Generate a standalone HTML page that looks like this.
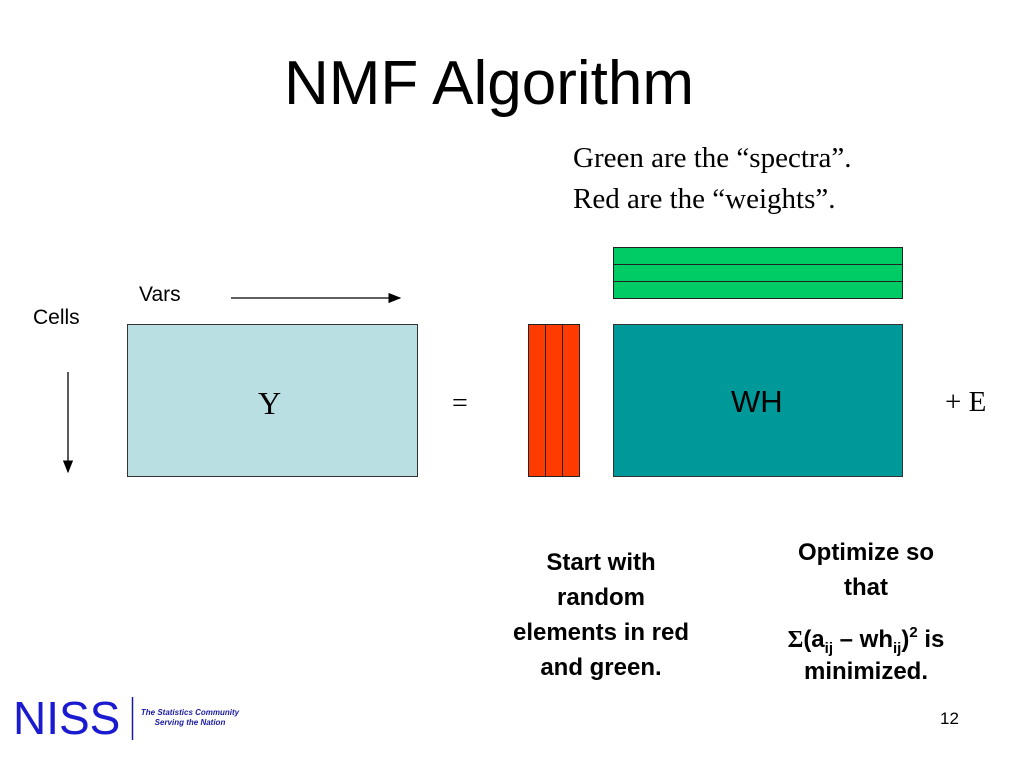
<!DOCTYPE html>
<html><head><style>
body{margin:0;width:1024px;height:768px;background:#fff;position:relative;overflow:hidden;font-family:"Liberation Sans",sans-serif}
.a{position:absolute}
.s{font-family:"Liberation Serif",serif}
.b{font-weight:bold;text-align:center;font-size:24px;line-height:35px}
sub,sup{font-size:15px;line-height:0;position:relative;vertical-align:baseline}
sub{top:6px}sup{top:-10px}
</style></head><body>
<div class="a" style="left:284px;top:48px;font-size:62px;line-height:72px">NMF Algorithm</div>
<div class="a s" style="left:573px;top:138px;font-size:29px;line-height:41px">Green are the “spectra”.<br>Red are the “weights”.</div>
<div class="a" style="left:139px;top:283px;font-size:21px">Vars</div>
<div class="a" style="left:33px;top:306px;font-size:21px">Cells</div>
<svg class="a" style="left:0;top:0" width="1024" height="768">
<defs><marker id="m" markerWidth="10" markerHeight="8" refX="9" refY="4" orient="auto"><path d="M0,0L10,4L0,8z" fill="#000"/></marker></defs>
<line x1="231" y1="298" x2="400" y2="298" stroke="#000" stroke-width="1.3" marker-end="url(#m)"/>
<line x1="68" y1="372" x2="68" y2="472" stroke="#000" stroke-width="1.3" marker-end="url(#m)"/>
<rect x="127.5" y="324.5" width="290" height="152" fill="#b9dfe3" stroke="#333"/>
<rect x="528.5" y="324.5" width="51" height="152" fill="#ff3b00" stroke="#222"/>
<line x1="545.5" y1="324" x2="545.5" y2="477" stroke="#222"/>
<line x1="562.5" y1="324" x2="562.5" y2="477" stroke="#222"/>
<rect x="613.5" y="324.5" width="289" height="152" fill="#009999" stroke="#333"/>
<rect x="613.5" y="247.5" width="289" height="51" fill="#00cc66" stroke="#222"/>
<line x1="613" y1="264.5" x2="903" y2="264.5" stroke="#222"/>
<line x1="613" y1="281.5" x2="903" y2="281.5" stroke="#222"/>
<line x1="132.5" y1="697" x2="132.5" y2="740" stroke="#1a1aa0" stroke-width="1.5"/>
</svg>
<div class="a s" style="left:258px;top:385px;font-size:32px">Y</div>
<div class="a s" style="left:452px;top:388px;font-size:28px">=</div>
<div class="a" style="left:731px;top:384px;font-size:31px">WH</div>
<div class="a s" style="left:945px;top:386px;font-size:29px">+ E</div>
<div class="a b" style="left:480px;top:545px;width:242px">Start with<br>random<br>elements in red<br>and green.</div>
<div class="a b" style="left:746px;top:535px;width:240px">Optimize so<br>that</div>
<div class="a b" style="left:746px;top:624px;width:240px;line-height:32px"><span class="s">Σ</span>(a<sub>ij</sub> – wh<sub>ij</sub>)<sup>2</sup> is<br>minimized.</div>
<div class="a" style="left:13px;top:692px;font-size:46px;color:#1a1ad0;line-height:52px">NISS</div>
<div class="a" style="left:136px;top:708px;font-size:8px;font-style:italic;font-weight:bold;color:#1a1aa0;line-height:10px;text-align:center;width:108px;white-space:nowrap">The Statistics Community<br>Serving the Nation</div>
<div class="a" style="left:940px;top:709px;font-size:17px">12</div>
</body></html>
